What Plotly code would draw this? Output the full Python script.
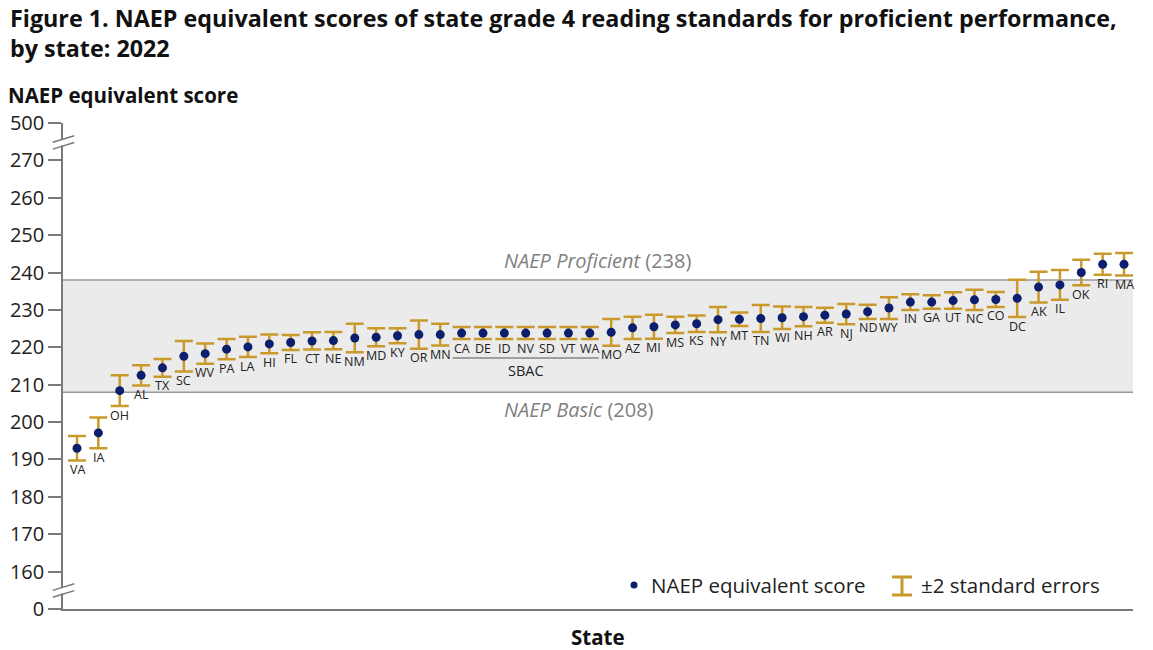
import plotly.graph_objects as go

# NAEP equivalent scores, grade 4 reading, 2022
states = ["VA", "IA", "OH", "AL", "TX", "SC", "WV", "PA", "LA", "HI",
          "FL", "CT", "NE", "NM", "MD", "KY", "OR", "MN",
          "CA", "DE", "ID", "NV", "SD", "VT", "WA",
          "MO", "AZ", "MI", "MS", "KS", "NY", "MT", "TN", "WI", "NH",
          "AR", "NJ", "ND", "WY", "IN", "GA", "UT", "NC", "CO", "DC",
          "AK", "IL", "OK", "RI", "MA"]
scores = [193.0, 197.1, 208.4, 212.5, 214.5, 217.6, 218.3, 219.5, 220.1, 220.9,
          221.3, 221.7, 221.8, 222.5, 222.7, 223.1, 223.4, 223.4,
          223.8, 223.8, 223.8, 223.8, 223.8, 223.8, 223.8,
          224.0, 225.2, 225.5, 226.0, 226.3, 227.4, 227.5, 227.7, 227.9, 228.2,
          228.6, 228.9, 229.5, 230.5, 232.1, 232.1, 232.5, 232.7, 232.8, 233.1,
          236.1, 236.7, 240.0, 242.2, 242.2]
two_se = [3.3, 4.1, 4.1, 2.7, 2.4, 4.1, 2.7, 2.7, 2.7, 2.5,
          2.0, 2.3, 2.3, 3.8, 2.4, 2.0, 3.8, 2.9,
          1.6, 1.6, 1.6, 1.6, 1.6, 1.6, 1.6,
          3.6, 3.0, 3.2, 2.2, 2.2, 3.4, 1.8, 3.6, 3.0, 2.6,
          2.0, 2.7, 1.9, 2.9, 2.1, 1.8, 2.2, 2.7, 2.0, 5.0,
          4.1, 4.0, 3.4, 2.8, 3.0]
sbac_group = ["CA", "DE", "ID", "NV", "SD", "VT", "WA"]

# axis: display values 150 and 280 stand for the broken ends 0 and 500
tick_vals = [150, 160, 170, 180, 190, 200, 210, 220, 230, 240, 250, 260, 270, 280]
tick_text = ["0", "160", "170", "180", "190", "200", "210", "220", "230",
             "240", "250", "260", "270", "500"]
naep_proficient = 238
naep_basic = 208

NAVY = "#0b1f6e"
GOLD = "#c99a2b"
AXIS = "#7a7a7a"
FONT = "Open Sans"

W, H = 1153, 650
L, T = 63, 123
R = W - 1133
B = H - 609


# helpers: screen pixels -> paper coordinates
def px_x(px):
  return (px - L) / (W - L - R)


def px_y(py):
  return (H - B - py) / (H - T - B)


fig = go.Figure()

fig.add_trace(go.Scatter(
  x=list(range(len(states))), y=scores,
  mode="markers",
  marker=dict(color=NAVY, size=9),
  error_y=dict(type="data", array=two_se, color=GOLD, thickness=2.5, width=9),
  hoverinfo="skip", showlegend=False,
))

shapes = []
annotations = []

# achievement band
shapes.append(dict(type="rect", xref="paper", yref="y", x0=0, x1=1,
                   y0=naep_basic, y1=naep_proficient,
                   fillcolor="#ebebeb", line_width=0, layer="below"))
for v in (naep_basic, naep_proficient):
  shapes.append(dict(type="line", xref="paper", yref="y", x0=0, x1=1, y0=v, y1=v,
                     line=dict(color="#9a9a9a", width=1.5), layer="below"))

annotations.append(dict(text="<i>NAEP Proficient</i> (%d)" % naep_proficient,
                        xref="paper", yref="y", x=px_x(502), y=naep_proficient,
                        xanchor="left", yanchor="middle", yshift=20, showarrow=False,
                        font=dict(family=FONT, size=20, color="#7f7f7f")))
annotations.append(dict(text="<i>NAEP Basic</i> (%d)" % naep_basic,
                        xref="paper", yref="y", x=px_x(502), y=naep_basic,
                        xanchor="left", yanchor="middle", yshift=-17, showarrow=False,
                        font=dict(family=FONT, size=20, color="#7f7f7f")))

# state labels under each lower cap
for i, (s, v, e) in enumerate(zip(states, scores, two_se)):
  annotations.append(dict(text=s, x=i, y=v - e, xref="x", yref="y",
                          xanchor="center", yanchor="middle", yshift=-9,
                          showarrow=False,
                          font=dict(family=FONT, size=12.5, color="#222")))

# SBAC bracket
i0 = states.index(sbac_group[0])
i1 = states.index(sbac_group[-1])
shapes.append(dict(type="line", xref="x", yref="paper", x0=i0 - 0.42, x1=i1 + 0.42,
                   y0=px_y(358), y1=px_y(358), line=dict(color="#555", width=1.2)))
annotations.append(dict(text="SBAC", xref="x", yref="paper", x=(i0 + i1) / 2,
                        y=px_y(370), xanchor="center", yanchor="middle",
                        showarrow=False,
                        font=dict(family=FONT, size=14.5, color="#222")))

# axis break marks
for yc in (142.4, 590.5):
  shapes.append(dict(type="rect", xref="paper", yref="paper",
                     x0=px_x(59), x1=px_x(68), y0=px_y(yc + 3), y1=px_y(yc - 3),
                     fillcolor="white", line_width=0, layer="above"))
  for off in (-3.4, 3.4):
    shapes.append(dict(type="line", xref="paper", yref="paper",
                       x0=px_x(52.7), y0=px_y(yc + off + 3.3),
                       x1=px_x(74.3), y1=px_y(yc + off - 3.3),
                       line=dict(color=AXIS, width=1.5), layer="above"))

# manual legend
shapes.append(dict(type="circle", xref="paper", yref="paper",
                   xsizemode="pixel", ysizemode="pixel",
                   xanchor=px_x(634), yanchor=px_y(585),
                   x0=-3.5, x1=3.5, y0=-3.5, y1=3.5,
                   fillcolor=NAVY, line_width=0))
annotations.append(dict(text="NAEP equivalent score", xref="paper", yref="paper",
                        x=px_x(649), y=px_y(585), xanchor="left", yanchor="middle",
                        showarrow=False, font=dict(family=FONT, size=20.5, color="#222")))
for (xa, ya, xb, yb) in ((892, 577, 912, 577), (892, 595, 912, 595), (902, 577, 902, 595)):
  shapes.append(dict(type="line", xref="paper", yref="paper",
                     x0=px_x(xa), y0=px_y(ya), x1=px_x(xb), y1=px_y(yb),
                     line=dict(color=GOLD, width=3)))
annotations.append(dict(text="±2 standard errors", xref="paper", yref="paper",
                        x=px_x(919), y=px_y(585), xanchor="left", yanchor="middle",
                        showarrow=False, font=dict(family=FONT, size=20.5, color="#222")))

# titles
annotations.append(dict(text="<b>Figure 1. NAEP equivalent scores of state grade 4 reading standards "
                             "for proficient performance,<br>by state: 2022</b>",
                        xref="paper", yref="paper", x=px_x(8), y=px_y(0),
                        xanchor="left", yanchor="top", align="left", showarrow=False,
                        font=dict(family=FONT, size=23.3, color="#111")))
annotations.append(dict(text="<b>NAEP equivalent score</b>", xref="paper", yref="paper",
                        x=px_x(6), y=px_y(95), xanchor="left", yanchor="middle",
                        showarrow=False, font=dict(family=FONT, size=20.5, color="#111")))
annotations.append(dict(text="<b>State</b>", xref="paper", yref="paper",
                        x=px_x(598), y=px_y(637), xanchor="center", yanchor="middle",
                        showarrow=False, font=dict(family=FONT, size=20.5, color="#111")))

fig.update_layout(
  width=W, height=H,
  margin=dict(l=L, r=R, t=T, b=B, autoexpand=False),
  paper_bgcolor="white", plot_bgcolor="white",
  shapes=shapes, annotations=annotations,
  showlegend=False,
  font=dict(family=FONT, color="#222"),
)
fig.update_xaxes(range=[-0.655, 49.42], showgrid=False, zeroline=False,
                 showticklabels=False, ticks="",
                 showline=True, linecolor=AXIS, linewidth=1.5)
fig.update_yaxes(range=[150, 280], tickvals=tick_vals, ticktext=tick_text,
                 showgrid=False, zeroline=False,
                 ticks="outside", ticklen=13, tickwidth=1.5, tickcolor=AXIS,
                 showline=True, linecolor=AXIS, linewidth=1.5,
                 tickfont=dict(family=FONT, size=20, color="#222"))

# drop the default 8px body margin so the figure fills the window
fig.write_html("out.html", config={"displayModeBar": False},
               post_script="document.body.style.margin = '0';")
